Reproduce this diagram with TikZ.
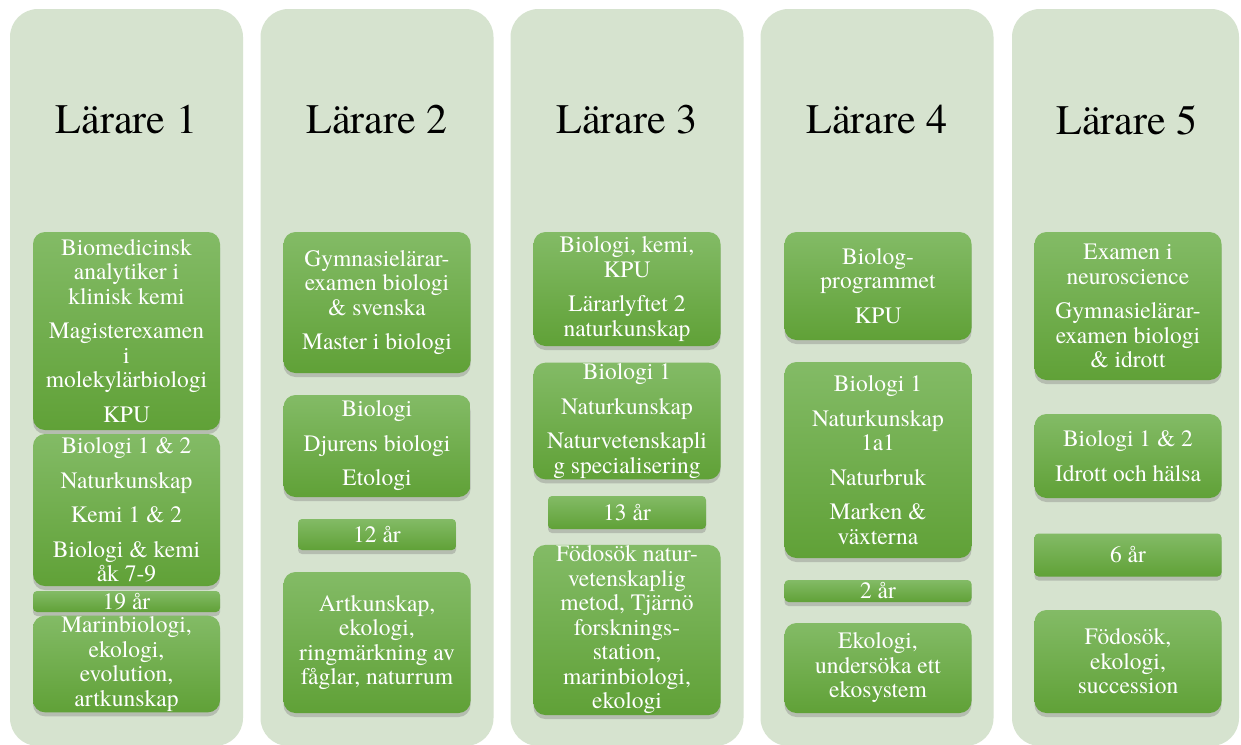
\documentclass[tikz,border=0pt]{standalone}
\usepackage{fontspec}
\setmainfont{TeX Gyre Termes}
\usetikzlibrary{shadows}
\definecolor{colbg}{RGB}{214,227,207}
\definecolor{grtop}{RGB}{131,187,102}
\definecolor{grbot}{RGB}{96,161,55}
\begin{document}
\begin{tikzpicture}[x=1pt, y=-1pt,
          col/.style={fill=colbg, rounded corners=28pt, minimum width=233, minimum height=737, inner sep=0pt},
          title/.style={font=\fontsize{42}{46}\selectfont, text=black},
          box/.style={rounded corners=12pt, align=center, text=white, top color=grtop, bottom color=grbot,
            minimum width=187, inner sep=1pt, font=\fontsize{23.5}{24.5}\selectfont,
            drop shadow={opacity=0.38, shadow xshift=0pt, shadow yshift=-4pt}},
          yr/.style={box, rounded corners=4pt}]
        \useasboundingbox (0,0) rectangle (1241,744);
        \fill[white] (0,0) rectangle (1241,744);
        \node[col] (c1) at (126.5,377.5) {};
        \node[col] (c2) at (377,377.5) {};
        \node[col] (c3) at (627,377.5) {};
        \node[col] (c4) at (877,377.5) {};
        \node[col, minimum width=227] (c5) at (1125.5,377.5) {};
        \node[title] (t1) at (126.5,120) {Lärare 1};
        \node[title] (t2) at (377,120) {Lärare 2};
        \node[title] (t3) at (627,120) {Lärare 3};
        \node[title] (t4) at (877,120) {Lärare 4};
        \node[title] (t5) at (1127,120) {Lärare 5};
        \node[box, minimum height=198] (u1) at (126.5,331) {Biomedicinsk\\analytiker i\\klinisk kemi\\[10pt]Magisterexamen\\i\\molekylärbiologi\\[10pt]KPU};
        \node[box, minimum height=152] (k1) at (126.5,510) {Biologi 1 \& 2\\[10pt]Naturkunskap\\[10pt]Kemi 1 \& 2\\[10pt]Biologi \& kemi\\åk 7-9};
        \node[yr, minimum height=21] (y1) at (126.5,601.5) {19 år};
        \node[box, minimum height=96] (f1) at (126.5,664) {Marinbiologi,\\ekologi,\\evolution,\\artkunskap};
        \node[box, minimum height=141] (u2) at (377,302.5) {Gymnasielärar-\\examen biologi\\\& svenska\\[10pt]Master i biologi};
        \node[box, minimum height=102] (k2) at (377,446) {Biologi\\[10pt]Djurens biologi\\[10pt]Etologi};
        \node[yr, minimum width=158, minimum height=31] (y2) at (377,534.5) {12 år};
        \node[box, minimum height=141] (f2) at (377,642.5) {Artkunskap,\\ekologi,\\ringmärkning av\\fåglar, naturrum};
        \node[box, minimum height=114] (u3) at (627,289) {Biologi, kemi,\\KPU\\[10pt]Lärarlyftet 2\\naturkunskap};
        \node[box, minimum height=114] (k3) at (627,421) {Biologi 1\\[10pt]Naturkunskap\\[10pt]Naturvetenskapli\\g specialisering};
        \node[yr, minimum width=158, minimum height=33] (y3) at (627,512.5) {13 år};
        \node[box, minimum height=166] (f3) at (627,630) {Födosök natur-\\vetenskaplig\\metod, Tjärnö\\forsknings-\\station,\\marinbiologi,\\ekologi};
        \node[box, minimum height=108] (u4) at (878,286) {Biolog-\\programmet\\[10pt]KPU};
        \node[box, minimum height=196] (k4) at (878,460) {Biologi 1\\[10pt]Naturkunskap\\1a1\\[10pt]Naturbruk\\[10pt]Marken \&\\växterna};
        \node[yr, minimum height=22] (y4) at (878,591) {2 år};
        \node[box, minimum height=90] (f4) at (878,668) {Ekologi,\\undersöka ett\\ekosystem};
        \node[box, minimum height=148] (u5) at (1128,306) {Examen i\\neuroscience\\[10pt]Gymnasielärar-\\examen biologi\\\& idrott};
        \node[box, minimum height=84] (k5) at (1128,456) {Biologi 1 \& 2\\[10pt]Idrott och hälsa};
        \node[yr, minimum height=43] (y5) at (1128,555) {6 år};
        \node[box, minimum height=103] (f5) at (1128,661.5) {Födosök,\\ekologi,\\succession};
      \end{tikzpicture}
\end{document}
